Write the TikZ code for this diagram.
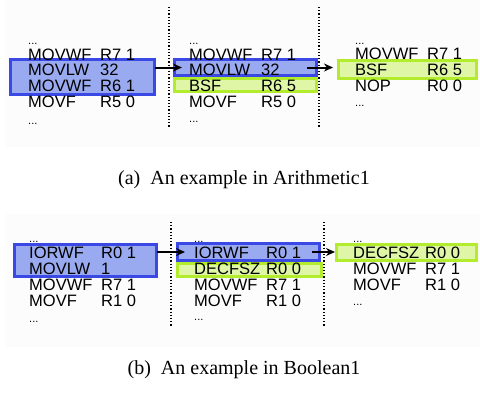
\documentclass[tikz,border=0pt]{standalone}
\usepackage{fontspec}
\setmainfont{Liberation Serif}
\newfontfamily\codefont{Liberation Sans}
\usetikzlibrary{positioning, arrows.meta}

\definecolor{hlblue}{RGB}{58,72,228}
\definecolor{hlbluefill}{RGB}{154,170,240}
\definecolor{hlgreen}{RGB}{178,236,44}
\definecolor{hlgreenfill}{RGB}{222,246,166}

\newcommand{\opc}[1]{\makebox[72pt][l]{#1}}

\begin{document}
\begin{tikzpicture}[
    x=1pt, y=-1pt,
    code/.style={anchor=base west, inner sep=0pt, font=\codefont\fontsize{16.5}{16}\selectfont},
    dots/.style={anchor=base west, inner sep=0pt, font=\codefont\fontsize{11}{11}\selectfont},
    bluebox/.style={draw=hlblue, fill=hlbluefill, line width=3pt, anchor=north west, inner sep=0pt, outer sep=0pt},
    greenbox/.style={draw=hlgreen, fill=hlgreenfill, line width=3pt, anchor=north west, inner sep=0pt, outer sep=0pt},
    sep/.style={dotted, line width=1.2pt},
    caption/.style={font=\fontsize{20}{24}\selectfont},
    >={Stealth[length=9pt, width=8pt]}
  ]
    \useasboundingbox (0,0) rectangle (480,392);
    \fill[black!1] (6,0) rectangle (480,147);
    \fill[black!1] (6,214) rectangle (480,347);

    % (a) highlighted lines
    \node[bluebox, minimum width=144pt, minimum height=35pt] (aLbox) at (10.5,59.5) {};
    \node[greenbox, minimum width=142pt, minimum height=13pt] (aMgreen) at (174.5,78.5) {};
    \node[bluebox, minimum width=142pt, minimum height=16pt] (aMblue) at (174.5,59.5) {};
    \node[greenbox, minimum width=138pt, minimum height=18pt] (aRgreen) at (338.5,60.5) {};

    \draw[sep] (169,7) -- (169,128);
    \draw[sep] (319,7) -- (319,128);

    % (a) left listing
    \node[dots] (aL0) at (28,44) {...};
    \node[code] (aL1) at (28,60) {\opc{MOVWF}R7 1};
    \node[code] (aL2) at (28,75.8) {\opc{MOVLW}32};
    \node[code] (aL3) at (28,91.6) {\opc{MOVWF}R6 1};
    \node[code] (aL4) at (28,107.4) {\opc{MOVF}R5 0};
    \node[dots] (aL5) at (28,124) {...};
    % (a) middle listing
    \node[dots] (aM0) at (189,44) {...};
    \node[code] (aM1) at (189,60) {\opc{MOVWF}R7 1};
    \node[code] (aM2) at (189,75.8) {\opc{MOVLW}32};
    \node[code] (aM3) at (189,91.6) {\opc{BSF}R6 5};
    \node[code] (aM4) at (189,107.4) {\opc{MOVF}R5 0};
    \node[dots] (aM5) at (189,122) {...};
    % (a) right listing
    \node[dots] (aR0) at (355,44) {...};
    \node[code] (aR1) at (355,59.5) {\opc{MOVWF}R7 1};
    \node[code] (aR2) at (355,75.5) {\opc{BSF}R6 5};
    \node[code] (aR3) at (355,91) {\opc{NOP}R0 0};
    \node[dots] (aR4) at (355,106) {...};

    \draw[->, line width=2pt] (aLbox.east |- aMblue.west) -- ([xshift=7.5pt]aMblue.west);
    \draw[->, line width=2pt] ([xshift=-9.5pt]aMblue.east) -- ([xshift=-5.5pt]aMblue.east -| aRgreen.west);

    \node[caption] (capa) at (244,180) {(a)\hspace{0.5em}An example in Arithmetic1};

    % (b) highlighted lines
    \node[bluebox, minimum width=142pt, minimum height=32pt] (bLbox) at (14.5,244.5) {};
    \node[greenbox, minimum width=144pt, minimum height=13pt] (bMgreen) at (177.5,263.5) {};
    \node[bluebox, minimum width=142pt, minimum height=17pt] (bMblue) at (177.5,243.5) {};
    \node[greenbox, minimum width=140pt, minimum height=16pt] (bRgreen) at (336.5,244.5) {};

    \draw[sep] (171,222) -- (171,327);
    \draw[sep] (324,222) -- (324,327);

    % (b) left listing
    \node[dots] (bL0) at (29,242) {...};
    \node[code] (bL1) at (29,258) {\opc{IORWF}R0 1};
    \node[code] (bL2) at (29,274) {\opc{MOVLW}1};
    \node[code] (bL3) at (29,290) {\opc{MOVWF}R7 1};
    \node[code] (bL4) at (29,306) {\opc{MOVF}R1 0};
    \node[dots] (bL5) at (29,322) {...};
    % (b) middle listing
    \node[dots] (bM0) at (194,242) {...};
    \node[code] (bM1) at (194,258) {\opc{IORWF}R0 1};
    \node[code] (bM2) at (194,274) {\opc{DECFSZ}R0 0};
    \node[code] (bM3) at (194,290) {\opc{MOVWF}R7 1};
    \node[code] (bM4) at (194,306) {\opc{MOVF}R1 0};
    \node[dots] (bM5) at (194,320) {...};
    % (b) right listing
    \node[dots] (bR0) at (353,242) {...};
    \node[code] (bR1) at (353,258) {\opc{DECFSZ}R0 0};
    \node[code] (bR2) at (353,274) {\opc{MOVWF}R7 1};
    \node[code] (bR3) at (353,290) {\opc{MOVF}R1 0};
    \node[dots] (bR4) at (353,305) {...};

    \draw[->, line width=2pt] (bLbox.east |- bMblue.west) -- ([xshift=7.5pt]bMblue.west);
    \draw[->, line width=2pt] ([xshift=-7.5pt]bMblue.east) -- ([xshift=-1.5pt]bMblue.east -| bRgreen.west);

    \node[caption] (capb) at (244,370) {(b)\hspace{0.5em}An example in Boolean1};
  \end{tikzpicture}
\end{document}
